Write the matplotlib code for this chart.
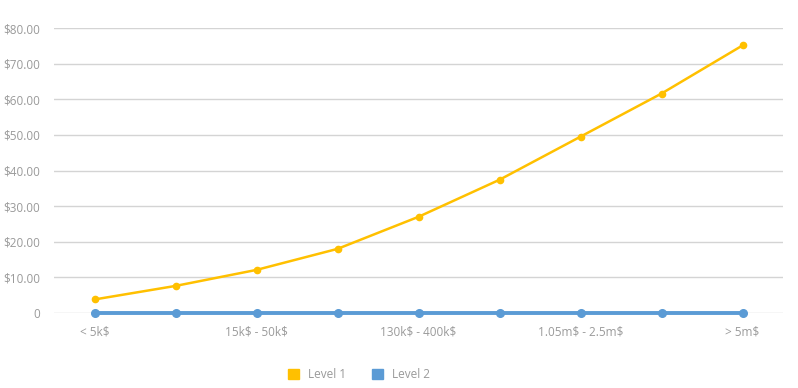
import matplotlib.pyplot as plt
from matplotlib.ticker import FuncFormatter
from matplotlib.patches import Patch

categories = ['< 5k$', '5k$ - 15k$', '15k$ - 50k$', '50k$ - 130k$', '130k$ - 400k$',
              '400k$ - 1.05m$', '1.05m$ - 2.5m$', '2.5m$ - 5m$', '> 5m$']
level1 = [3.8, 7.6, 12.1, 18.0, 27.0, 37.4, 49.5, 61.6, 75.1]
level2 = [0, 0, 0, 0, 0, 0, 0, 0, 0]
yticks = [0, 10, 20, 30, 40, 50, 60, 70, 80]

yellow = '#FFC000'
blue = '#5B9BD5'
txt = '#9a9a9a'

plt.rcParams['font.family'] = ['Open Sans', 'DejaVu Sans']
plt.rcParams['text.parse_math'] = False

fig = plt.figure(figsize=(7.98, 3.88), dpi=100)
ax = fig.add_axes([54 / 798, 75 / 388, 729 / 798, 285 / 388])

x = list(range(len(categories)))
ax.plot(x, level1, color=yellow, lw=1.8, marker='o', ms=4.5, zorder=3, clip_on=False)
ax.plot(x, level2, color=blue, lw=2.8, marker='o', ms=5.5, zorder=4, clip_on=False)

ax.set_xlim(-0.5, len(categories) - 0.5)
ax.set_ylim(0, 80)
ax.set_yticks(yticks)
ax.yaxis.set_major_formatter(FuncFormatter(lambda v, p: '0' if v == 0 else f'${v:.2f}'))
ax.set_xticks(x)
ax.set_xticklabels([c if i % 2 == 0 else '' for i, c in enumerate(categories)])
ax.tick_params(length=0, colors=txt, labelsize=8.5)
ax.tick_params(axis='x', pad=9)
ax.tick_params(axis='y', pad=10)
ax.grid(axis='y', color='#d4d4d4', lw=1)
ax.set_axisbelow(True)
for s in ax.spines.values():
    s.set_visible(False)

handles = [Patch(color=yellow, label='Level 1'), Patch(color=blue, label='Level 2')]
fig.legend(handles=handles, loc='center', bbox_to_anchor=(0.45, 0.035), ncol=2, frameon=False,
           fontsize=8.5, labelcolor=txt, handlelength=0.9, handleheight=0.9,
           handletextpad=0.8, columnspacing=2.2)

fig.savefig('out.png', dpi=100)
